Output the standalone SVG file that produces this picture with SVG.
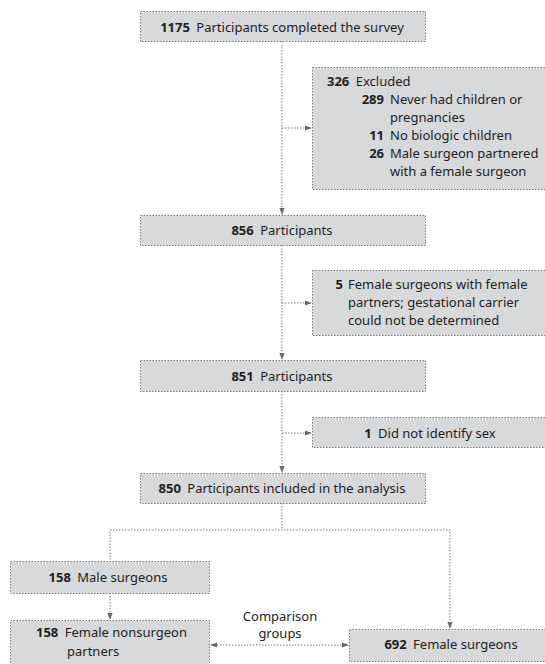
<svg xmlns="http://www.w3.org/2000/svg" width="545" height="664" viewBox="0 0 545 664">
<style>
.box{fill:#d8d9db;stroke:#7f7f7f;stroke-width:1;stroke-dasharray:1.5 1.5}
.ln{fill:none;stroke:#7a7a7a;stroke-width:1;stroke-dasharray:1.5 1.5}
text{font-family:"Noto Sans","Liberation Sans",sans-serif;font-size:13px;fill:#1e1e1e}
.b{font-weight:bold}
.m{text-anchor:middle}
.e{text-anchor:end}
</style>
<defs>
<marker id="ah" viewBox="0 0 8 8" refX="7" refY="4" markerWidth="7" markerHeight="7" orient="auto" markerUnits="userSpaceOnUse">
<path d="M0,1 L8,4 L0,7 z" fill="#6a6a6a"/>
</marker>
<marker id="as" viewBox="0 0 8 8" refX="1" refY="4" markerWidth="7" markerHeight="7" orient="auto" markerUnits="userSpaceOnUse">
<path d="M8,1 L0,4 L8,7 z" fill="#6a6a6a"/>
</marker>
</defs>
<rect width="545" height="664" fill="#ffffff"/>
<g id="connectors">
<line class="ln" x1="282" y1="41" x2="282" y2="214" marker-end="url(#ah)"/>
<line class="ln" x1="282" y1="128" x2="311" y2="128" marker-end="url(#ah)"/>
<line class="ln" x1="282" y1="245" x2="282" y2="359" marker-end="url(#ah)"/>
<line class="ln" x1="282" y1="303" x2="311" y2="303" marker-end="url(#ah)"/>
<line class="ln" x1="282" y1="391" x2="282" y2="472" marker-end="url(#ah)"/>
<line class="ln" x1="282" y1="433" x2="311" y2="433" marker-end="url(#ah)"/>
<line class="ln" x1="282" y1="503" x2="282" y2="530"/>
<polyline class="ln" points="110,560 110,530 450,530 450,628" marker-end="url(#ah)"/>
<line class="ln" x1="110" y1="593" x2="110" y2="619" marker-end="url(#ah)"/>
<line class="ln" x1="211" y1="645" x2="348" y2="645" marker-start="url(#as)" marker-end="url(#ah)"/>
</g>
<g id="n1175">
<rect class="box" x="140.5" y="11.5" width="285" height="30"/>
<text x="282" y="32" class="m"><tspan class="b">1175</tspan><tspan dx="3"> Participants completed the survey</tspan></text>
</g>
<g id="excluded326">
<rect class="box" x="312.5" y="67.5" width="240" height="122"/>
<text x="327" y="86"><tspan class="b">326</tspan><tspan dx="3"> Excluded</tspan></text>
<text x="384" y="104" class="e b">289</text>
<text x="390" y="104">Never had children or</text>
<text x="390" y="122">pregnancies</text>
<text x="384" y="140" class="e b">11</text>
<text x="390" y="140">No biologic children</text>
<text x="384" y="158" class="e b">26</text>
<text x="390" y="158">Male surgeon partnered</text>
<text x="390" y="176">with a female surgeon</text>
</g>
<g id="n856">
<rect class="box" x="140.5" y="215.5" width="285" height="30"/>
<text x="282" y="235" class="m"><tspan class="b">856</tspan><tspan dx="3"> Participants</tspan></text>
</g>
<g id="excluded5">
<rect class="box" x="312.5" y="270.5" width="240" height="65"/>
<text x="343" y="289" class="e b">5</text>
<text x="348" y="289">Female surgeons with female</text>
<text x="348" y="307">partners; gestational carrier</text>
<text x="348" y="325">could not be determined</text>
</g>
<g id="n851">
<rect class="box" x="140.5" y="360.5" width="285" height="31"/>
<text x="282" y="381" class="m"><tspan class="b">851</tspan><tspan dx="3"> Participants</tspan></text>
</g>
<g id="excluded1">
<rect class="box" x="312.5" y="417.5" width="240" height="30"/>
<text x="430" y="438" class="m"><tspan class="b">1</tspan><tspan dx="3"> Did not identify sex</tspan></text>
</g>
<g id="n850">
<rect class="box" x="140.5" y="473.5" width="285" height="30"/>
<text x="282" y="493" class="m"><tspan class="b">850</tspan><tspan dx="3"> Participants included in the analysis</tspan></text>
</g>
<g id="male158">
<rect class="box" x="10.5" y="561.5" width="199" height="32"/>
<text x="108" y="582" class="m"><tspan class="b">158</tspan><tspan dx="3"> Male surgeons</tspan></text>
</g>
<g id="female158">
<rect class="box" x="10.5" y="620.5" width="199" height="50"/>
<text x="36" y="637"><tspan class="b">158</tspan><tspan dx="3"> Female nonsurgeon</tspan></text>
<text x="67" y="656">partners</text>
</g>
<g id="female692">
<rect class="box" x="349.5" y="629.5" width="200" height="32"/>
<text x="451" y="649" class="m"><tspan class="b">692</tspan><tspan dx="3"> Female surgeons</tspan></text>
</g>
<g id="comparison">
<text x="280" y="621" class="m">Comparison</text>
<text x="280" y="638" class="m">groups</text>
</g>
</svg>
